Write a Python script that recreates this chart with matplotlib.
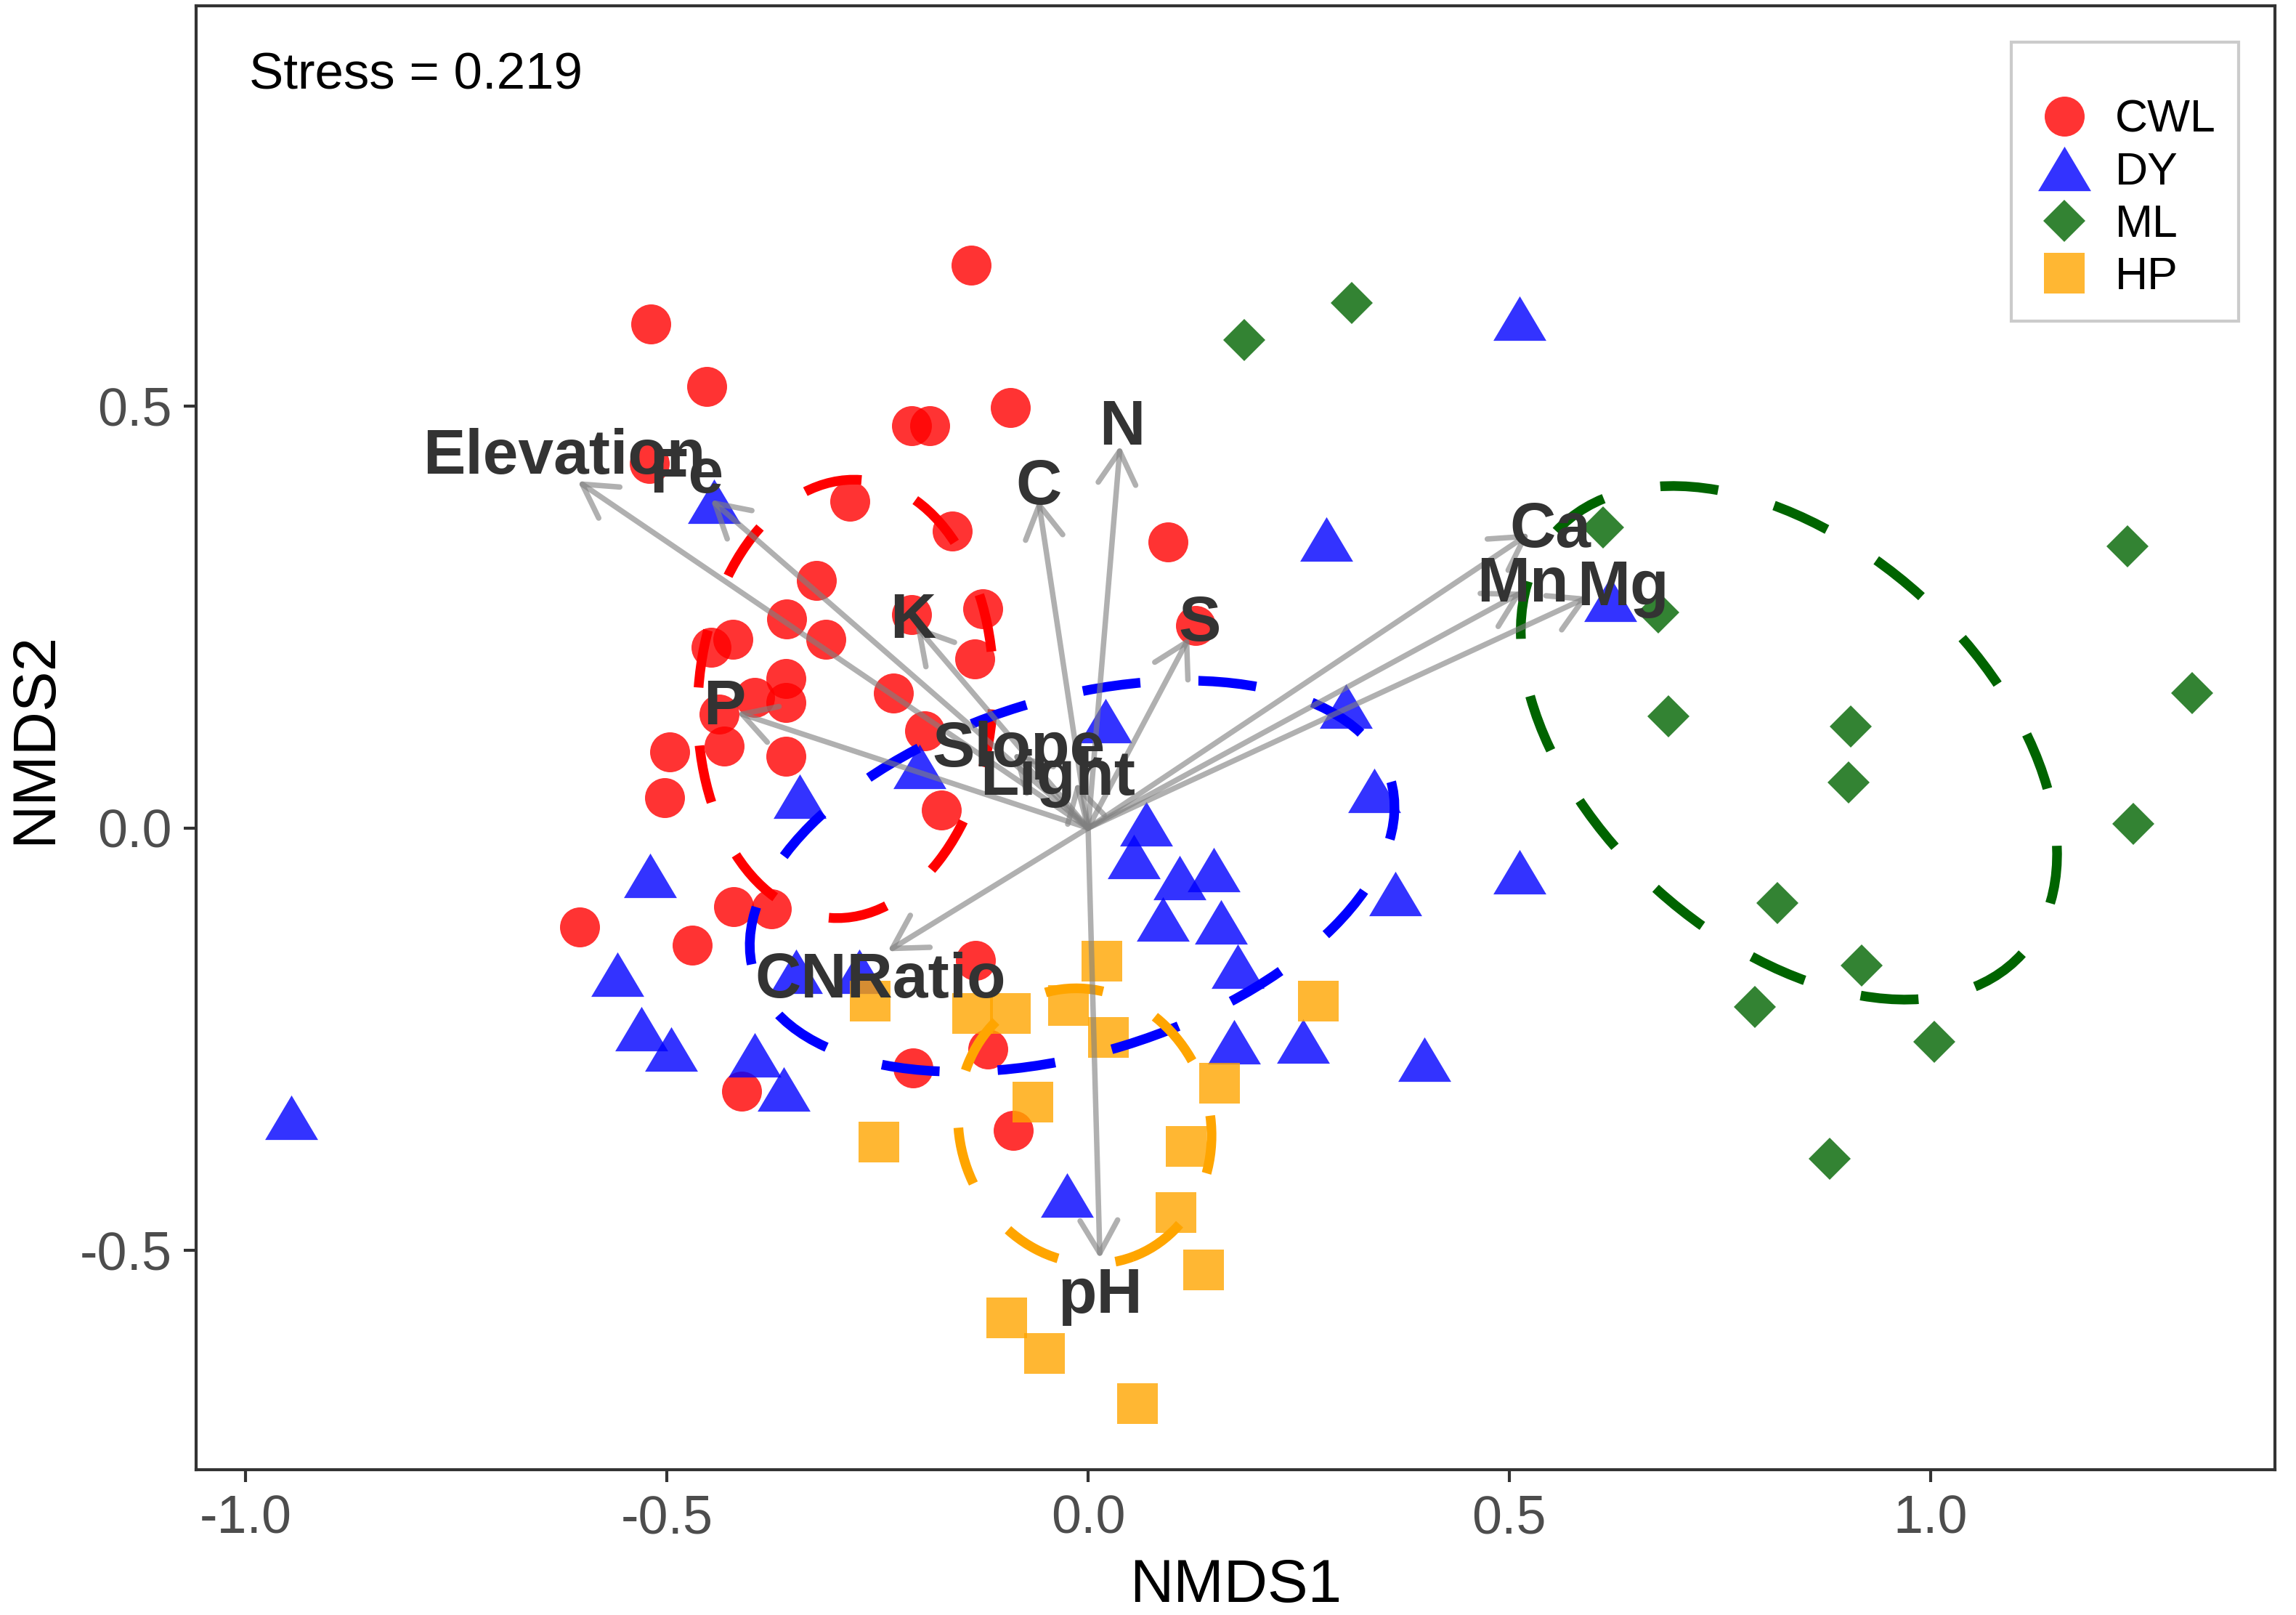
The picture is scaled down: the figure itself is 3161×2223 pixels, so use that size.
import matplotlib
matplotlib.use("Agg")
import matplotlib.pyplot as plt
from matplotlib.patches import Ellipse

plt.rcParams['font.family'] = ['Liberation Sans', 'DejaVu Sans']
plt.rcParams['axes.unicode_minus'] = False

# NMDS site scores per forest type
cwl_x = [-0.139, -0.519, -0.453, -0.210, -0.188, -0.092, -0.521, -0.283, -0.161, 0.095,
         -0.323, -0.358, -0.311, -0.210, -0.125, -0.448, -0.422, -0.135, -0.359, -0.396,
         -0.359, -0.231, -0.194, 0.128, -0.438, -0.432, -0.497, -0.359, -0.503, -0.174,
         -0.604, -0.421, -0.376, -0.470, -0.134, -0.119, -0.208, -0.411, -0.089]
cwl_y = [0.667, 0.597, 0.523, 0.477, 0.477, 0.498, 0.432, 0.387, 0.352, 0.339,
         0.293, 0.248, 0.224, 0.253, 0.260, 0.214, 0.224, 0.200, 0.177, 0.155,
         0.149, 0.160, 0.115, 0.240, 0.135, 0.097, 0.090, 0.085, 0.036, 0.021,
         -0.117, -0.093, -0.096, -0.139, -0.157, -0.262, -0.284, -0.312, -0.358]

dy_x = [0.512, 0.283, -0.444, 0.021, 0.306, 0.340, -0.342, -0.200, 0.620, 0.512,
        0.365, 0.399, 0.255, 0.069, 0.054, 0.109, 0.149, 0.089, 0.158, 0.178,
        -0.520, -0.559, -0.347, -0.272, -0.530, -0.495, -0.396, -0.361, -0.946, -0.025,
        0.173]
dy_y = [0.604, 0.342, 0.387, 0.127, 0.144, 0.045, 0.038, 0.073, 0.271, -0.052,
        -0.078, -0.274, -0.252, 0.005, -0.034, -0.059, -0.049, -0.108, -0.111, -0.164,
        -0.056, -0.173, -0.170, -0.170, -0.238, -0.262, -0.269, -0.309, -0.343, -0.435,
        -0.253]

ml_x = [0.185, 0.313, 0.611, 0.677, 0.689, 0.905, 0.903, 1.234, 1.311, 1.241,
        0.818, 0.918, 0.792, 1.005, 0.880]
ml_y = [0.578, 0.622, 0.356, 0.255, 0.132, 0.120, 0.054, 0.334, 0.160, 0.005,
        -0.089, -0.163, -0.212, -0.253, -0.392]

hp_x = [0.016, -0.259, -0.137, -0.092, -0.023, 0.024, 0.273, 0.156, -0.066, -0.248,
        0.116, 0.104, 0.137, -0.097, -0.052, 0.059]
hp_y = [-0.158, -0.205, -0.220, -0.220, -0.210, -0.248, -0.205, -0.302, -0.325, -0.372,
        -0.377, -0.455, -0.523, -0.580, -0.622, -0.682]

# group ellipses: centre x, centre y, width, height, angle
ell_cx = [-0.288, -0.019, 0.832, -0.004]
ell_cy = [0.153, -0.057, 0.101, -0.353]
ell_w = [0.35, 0.79, 0.746, 0.297]
ell_h = [0.52, 0.42, 0.468, 0.33]
ell_ang = [-4, 17, -42, 20]

# environmental vectors (envfit)
env_names = ['Elevation', 'Fe', 'C', 'N', 'K', 'S', 'P', 'Slope', 'Light',
             'Ca', 'Mn', 'Mg', 'CNRatio', 'pH']
env_x = [-0.606, -0.448, -0.059, 0.038, -0.205, 0.120, -0.417, -0.089, -0.014,
         0.524, 0.516, 0.594, -0.238, 0.014]
env_y = [0.411, 0.389, 0.389, 0.453, 0.240, 0.226, 0.137, 0.089, 0.054,
         0.349, 0.280, 0.274, -0.146, -0.510]
lab_x = [-0.622, -0.477, -0.059, 0.040, -0.208, 0.132, -0.432, -0.082, -0.036,
         0.549, 0.516, 0.635, -0.247, 0.014]
lab_y = [0.439, 0.417, 0.403, 0.474, 0.245, 0.241, 0.142, 0.092, 0.059,
         0.352, 0.288, 0.283, -0.181, -0.555]

groups = ['CWL', 'DY', 'ML', 'HP']
colors = ['red', 'blue', 'darkgreen', 'orange']

# wider, flatter triangle like ggplot shape 17
tri = [(-1, -0.84), (1, -0.84), (0, 0.84), (-1, -0.84)]

fig = plt.figure(figsize=(3162 / 300, 2223 / 300), dpi=300)
ax = fig.add_axes([0.0854, 0.0900, 0.9051, 0.9064])

# points
ax.plot(cwl_x, cwl_y, 'o', color='red', alpha=0.8, ms=13.2, mew=0, label='CWL', zorder=2)
ax.plot(dy_x, dy_y, marker=tri, ls='none', color='blue', alpha=0.8, ms=17.5, mew=0,
        label='DY', zorder=2)
ax.plot(ml_x, ml_y, 'D', color='darkgreen', alpha=0.8, ms=9.8, mew=0, label='ML', zorder=2)
ax.plot(hp_x, hp_y, 's', color='orange', alpha=0.8, ms=13.6, mew=0, label='HP', zorder=2)

# ellipses
for i in range(len(groups)):
    e = Ellipse((ell_cx[i], ell_cy[i]), ell_w[i], ell_h[i], angle=ell_ang[i],
                fill=False, edgecolor=colors[i], lw=3.2, linestyle=(0, (6, 6)), zorder=3)
    ax.add_patch(e)

# arrows + labels
for i in range(len(env_names)):
    ax.annotate('', xy=(env_x[i], env_y[i]), xytext=(0, 0),
                arrowprops=dict(arrowstyle='->,head_length=0.54,head_width=0.31',
                                color='#808080', alpha=0.62, lw=1.8,
                                shrinkA=0, shrinkB=0, mutation_scale=20),
                zorder=4)
for i in range(len(env_names)):
    ax.text(lab_x[i], lab_y[i], env_names[i], ha='center', va='center',
            fontsize=21, fontweight='bold', color='#333333', zorder=5)

ax.text(0.0255, 0.952, 'Stress = 0.219', transform=ax.transAxes, fontsize=17,
        ha='left', va='center', color='black')

ax.set_xlim(-1.059, 1.409)
ax.set_ylim(-0.760, 0.974)
ax.set_xticks([-1.0, -0.5, 0.0, 0.5, 1.0])
ax.set_yticks([-0.5, 0.0, 0.5])
ax.set_xticklabels(['-1.0', '-0.5', '0.0', '0.5', '1.0'])
ax.set_yticklabels(['-0.5', '0.0', '0.5'])
ax.tick_params(labelsize=17.7, labelcolor='#4D4D4D', color='#333333', length=4, width=1, pad=4)
for s in ax.spines.values():
    s.set_linewidth(1.0)
    s.set_color('#333333')
ax.set_xlabel('NMDS1', fontsize=20, labelpad=4.5)
ax.set_ylabel('NMDS2', fontsize=20, labelpad=5.5)

leg = ax.legend(loc='upper right', fontsize=15, frameon=True, fancybox=False,
                borderpad=0.5, labelspacing=0.21, handlelength=1.33, handletextpad=0.45,
                borderaxespad=0.8, title=' ', title_fontsize=8.5)
leg.get_frame().set_edgecolor('#BEBEBE')
leg.get_frame().set_linewidth(1.0)

plt.savefig('out.png', dpi=300)
